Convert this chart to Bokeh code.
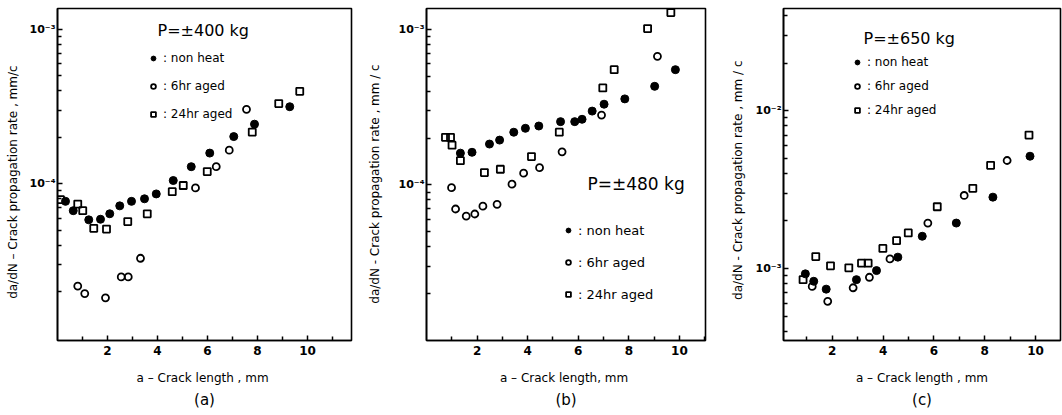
from bokeh.plotting import figure
from bokeh.layouts import row
from bokeh.models import (FixedTicker, CustomJSTickFormatter, Range1d, Legend,
                          LegendItem, Title, Label)
from bokeh.embed import file_html
from bokeh.resources import INLINE

FONT = "DejaVu Sans"

# ---------------- data: panel (a)  P = ±400 kg ----------------
a_non_x = [0.32, 0.63, 1.25, 1.72, 2.09, 2.49, 2.96, 3.48, 3.95, 4.63, 5.35, 6.09, 7.05, 7.88, 9.29]
a_non_y = [7.7e-5, 6.7e-5, 5.85e-5, 5.9e-5, 6.4e-5, 7.2e-5, 7.7e-5, 8.0e-5, 8.6e-5, 1.05e-4,
           1.29e-4, 1.58e-4, 2.02e-4, 2.43e-4, 3.15e-4]
a_6hr_x = [0.81, 1.09, 1.92, 2.55, 2.83, 3.32, 5.52, 6.35, 6.87, 7.56]
a_6hr_y = [2.18e-5, 1.95e-5, 1.83e-5, 2.5e-5, 2.5e-5, 3.3e-5, 9.4e-5, 1.29e-4, 1.65e-4, 3.03e-4]
a_24hr_x = [0.12, 0.81, 1.01, 1.45, 1.96, 2.81, 3.59, 4.59, 5.03, 5.99, 7.79, 8.85, 9.69]
a_24hr_y = [7.9e-5, 7.4e-5, 6.7e-5, 5.15e-5, 5.1e-5, 5.7e-5, 6.4e-5, 8.9e-5, 9.75e-5, 1.2e-4,
            2.16e-4, 3.3e-4, 3.96e-4]

# ---------------- data: panel (b)  P = ±480 kg ----------------
b_non_x = [1.34, 1.80, 2.49, 2.89, 3.45, 3.91, 4.44, 5.30, 5.86, 6.15, 6.55, 7.02, 7.84, 9.02, 9.84]
b_non_y = [1.6e-4, 1.62e-4, 1.83e-4, 1.94e-4, 2.18e-4, 2.31e-4, 2.39e-4, 2.55e-4, 2.55e-4,
           2.64e-4, 2.98e-4, 3.3e-4, 3.57e-4, 4.3e-4, 5.5e-4]
b_6hr_x = [0.99, 1.15, 1.57, 1.91, 2.23, 2.79, 3.38, 3.84, 4.47, 5.36, 6.92, 9.13]
b_6hr_y = [9.6e-5, 7.0e-5, 6.3e-5, 6.5e-5, 7.3e-5, 7.5e-5, 1.01e-4, 1.19e-4, 1.29e-4, 1.63e-4,
           2.81e-4, 6.7e-4]
b_24hr_x = [0.75, 0.95, 1.01, 1.34, 2.29, 2.92, 4.15, 5.25, 6.97, 7.42, 8.74, 9.66]
b_24hr_y = [2.02e-4, 2.02e-4, 1.8e-4, 1.43e-4, 1.2e-4, 1.26e-4, 1.52e-4, 2.18e-4, 4.2e-4,
            5.5e-4, 1.01e-3, 1.28e-3]

# ---------------- data: panel (c)  P = ±650 kg ----------------
c_non_x = [0.94, 1.27, 1.76, 2.95, 3.74, 4.58, 5.54, 6.88, 8.32, 9.78]
c_non_y = [9.25e-4, 8.3e-4, 7.4e-4, 8.5e-4, 9.7e-4, 1.18e-3, 1.6e-3, 1.94e-3, 2.83e-3, 5.14e-3]
c_6hr_x = [1.21, 1.82, 2.82, 3.46, 4.27, 5.76, 7.19, 8.88]
c_6hr_y = [7.7e-4, 6.2e-4, 7.55e-4, 8.8e-4, 1.15e-3, 1.94e-3, 2.9e-3, 4.83e-3]
c_24hr_x = [0.85, 1.35, 1.93, 2.65, 3.15, 3.41, 3.99, 4.53, 4.99, 6.13, 7.53, 8.23, 9.74]
c_24hr_y = [8.5e-4, 1.19e-3, 1.04e-3, 1.01e-3, 1.08e-3, 1.08e-3, 1.34e-3, 1.5e-3, 1.68e-3,
            2.46e-3, 3.22e-3, 4.5e-3, 7.0e-3]

series_labels = [": non heat", ": 6hr aged", ": 24hr aged"]
x_major = [2, 4, 6, 8, 10]
x_minor = [1, 3, 5, 7, 9, 11]


def log_minor(decades):
    out = []
    for d in decades:
        for m in range(2, 10):
            out.append(m * 10.0 ** d)
    return out


def make_fmt():
    return CustomJSTickFormatter(code="""
const e = Math.round(Math.log10(tick));
const sup = {'-':'\u207b','0':'\u2070','1':'\u00b9','2':'\u00b2','3':'\u00b3','4':'\u2074',
             '5':'\u2075','6':'\u2076','7':'\u2077','8':'\u2078','9':'\u2079'};
return '10' + String(e).split('').map(c => sup[c]).join('');
""")


def panel(width, bl, br, bb, xr, yr, ymajor, yminor, ylabel, xlabel, cap,
          xs, ys, ptitle, ptitle_pos, ptitle_size, leg_loc, leg_spacing, leg_font,
          ylab_standoff):
    p = figure(width=width, height=415, x_range=Range1d(*xr), y_range=Range1d(*yr),
               y_axis_type="log", output_backend="svg", toolbar_location=None,
               min_border_left=bl, min_border_right=br, min_border_top=8,
               min_border_bottom=bb)
    p.grid.visible = False
    p.outline_line_color = "black"
    p.outline_line_width = 1.6
    p.background_fill_color = "white"
    p.border_fill_color = "white"

    p.xaxis.ticker = FixedTicker(ticks=x_major, minor_ticks=x_minor)
    p.yaxis.ticker = FixedTicker(ticks=ymajor, minor_ticks=yminor)
    p.yaxis.formatter = make_fmt()
    for ax in (p.xaxis[0], p.yaxis[0]):
        ax.axis_line_color = "black"
        ax.axis_line_width = 1.6
        ax.major_tick_in = 5
        ax.major_tick_out = 0
        ax.minor_tick_in = 4
        ax.minor_tick_out = 0
        ax.major_tick_line_width = 1.5
        ax.minor_tick_line_width = 1.5
        ax.major_label_text_font = FONT
        ax.major_label_text_font_style = "bold"
        ax.major_label_text_color = "black"
        ax.axis_label_text_font = FONT
        ax.axis_label_text_font_style = "normal"
        ax.axis_label_text_font_size = "12px"
        ax.axis_label_text_color = "black"
    p.xaxis.major_label_text_font_size = "12px"
    p.yaxis.major_label_text_font_size = "11px"
    p.xaxis.major_label_standoff = 5
    p.yaxis.major_label_standoff = 2
    p.xaxis.axis_label = xlabel
    p.xaxis.axis_label_standoff = 13
    p.yaxis.axis_label = ylabel
    p.yaxis.axis_label_standoff = ylab_standoff

    (x1, x2, x3), (y1, y2, y3) = xs, ys
    r1 = p.scatter(x1, y1, marker="circle", size=8, fill_color="black", line_color="black")
    r2 = p.scatter(x2, y2, marker="circle", size=7, fill_color=None, line_color="black",
                   line_width=1.8)
    r3 = p.scatter(x3, y3, marker="square", size=7, fill_color=None, line_color="black",
                   line_width=1.8)

    leg = Legend(items=[LegendItem(label=series_labels[0], renderers=[r1]),
                        LegendItem(label=series_labels[1], renderers=[r2]),
                        LegendItem(label=series_labels[2], renderers=[r3])],
                 location=leg_loc, padding=0, margin=0, spacing=leg_spacing,
                 glyph_width=12, glyph_height=20, label_height=20, label_standoff=4,
                 border_line_color=None, background_fill_alpha=0,
                 label_text_font=FONT, label_text_font_size=leg_font,
                 label_text_color="black")
    p.add_layout(leg, "center")

    p.add_layout(Label(x=ptitle_pos[0], y=ptitle_pos[1], x_units="screen", y_units="screen",
                       text=ptitle, text_font=FONT, text_font_size=ptitle_size,
                       text_baseline="middle", text_color="black"))

    p.add_layout(Title(text=cap, align="center", text_font=FONT, text_font_size="15px",
                       text_font_style="normal", text_color="black", standoff=3), "below")
    return p


pa = panel(360, 57, 9, 72, (0, 11.76), (9.7e-6, 1.36e-3), [1e-4, 1e-3], log_minor([-5, -4, -3]),
           "da/dN  \u2013  Crack  propagation  rate , mm/c", "a \u2013 Crack  length , mm", "(a)",
           (a_non_x, a_6hr_x, a_24hr_x), (a_non_y, a_6hr_y, a_24hr_y),
           "P=\u00b1400 kg", (100, 310), "16px", (90, 216), 8, "12px", 7)

pb = panel(350, 66, 5, 74, (0, 11.03), (1.0e-5, 1.36e-3), [1e-4, 1e-3], log_minor([-5, -4, -3]),
           "da/dN  -  Crack  propagation  rate ,  mm / c", "a \u2013 Crack  length, mm", "(b)",
           (b_non_x, b_6hr_x, b_24hr_x), (b_non_y, b_6hr_y, b_24hr_y),
           "P=\u00b1480 kg", (161, 157), "17px", (136, 36), 12, "13px", 14)

pc = panel(352, 73, 2, 75, (0.08, 10.98), (3.5e-4, 4.43e-2), [1e-3, 1e-2], log_minor([-4, -3, -2]),
           "da/dN  -  Crack propagation  rate , mm / c", "a \u2013 Crack length , mm", "(c)",
           (c_non_x, c_6hr_x, c_24hr_x), (c_non_y, c_6hr_y, c_24hr_y),
           "P=\u00b1650 kg", (80, 302), "16px", (68, 220), 4, "12px", 8)

layout = row(pa, pb, pc, spacing=0)
open("out.html", "w").write(file_html(layout, INLINE))
